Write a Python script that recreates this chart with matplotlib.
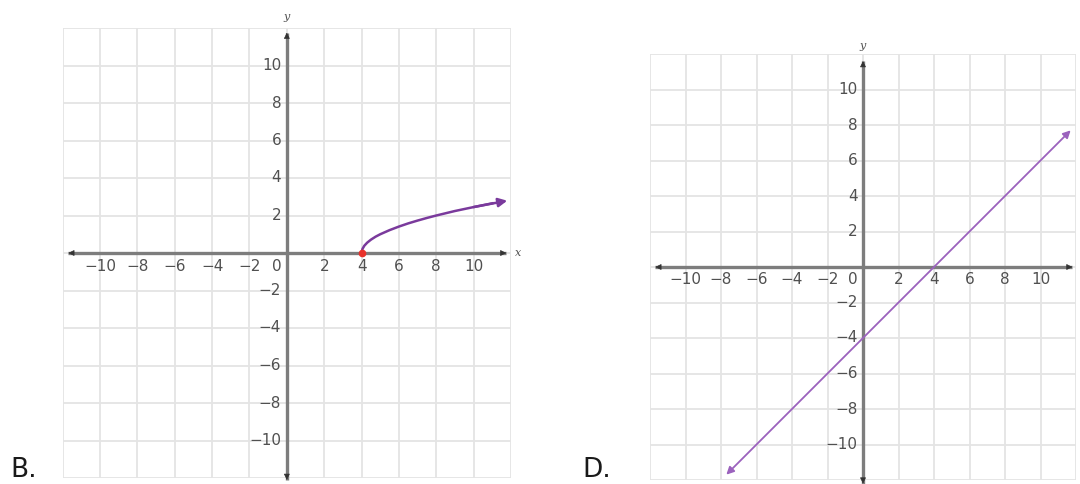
import matplotlib
matplotlib.use("Agg")
import matplotlib.pyplot as plt

# ---- data ----
ticks = [-10, -8, -6, -4, -2, 2, 4, 6, 8, 10]
grid_vals = list(range(-12, 13, 2))
curve_b_x = [4.0, 4.05, 4.15, 4.3, 4.5, 4.75, 5.0, 5.5, 6.0, 6.5, 7.0, 7.5, 8.0, 9.0, 10.0, 11.0, 11.8]
curve_b_y = [0.0, 0.22, 0.39, 0.55, 0.71, 0.87, 1.0, 1.22, 1.41, 1.58, 1.73, 1.87, 2.0, 2.24, 2.45, 2.65, 2.79]
point_b = (4, 0)
line_d_x = [-7.7, 11.7]
line_d_y = [-11.7, 7.7]
panel_labels = ["B.", "D."]

W, H = 1080, 484
fig = plt.figure(figsize=(W / 100, H / 100), dpi=100)
fig.patch.set_facecolor("white")

GRID_C = "#e4e4e4"
AXIS_C = "#7d7d7d"
TXT_C = "#505050"
FS = 11


def px_axes(x0, x1, y0, y1):
    return fig.add_axes([x0 / W, 1 - y1 / H, (x1 - x0) / W, (y1 - y0) / H])


def setup(ax, xa, ya):
    ax.set_xlim(-12, 12)
    ax.set_ylim(-12, 12)
    for s in ax.spines.values():
        s.set_visible(False)
    ax.set_xticks([])
    ax.set_yticks([])
    for g in grid_vals:
        ax.axvline(g, color=GRID_C, lw=1.3, zorder=0)
        ax.axhline(g, color=GRID_C, lw=1.3, zorder=0)
    # axes with arrows
    ax.plot(xa, [0, 0], color=AXIS_C, lw=2.4, zorder=2, solid_capstyle="butt", clip_on=False)
    ax.plot([0, 0], ya, color=AXIS_C, lw=2.4, zorder=2, solid_capstyle="butt", clip_on=False)
    for (p, q) in [((xa[1], 0), (xa[1] - 0.1, 0)), ((xa[0], 0), (xa[0] + 0.1, 0)),
                   ((0, ya[1]), (0, ya[1] - 0.1)), ((0, ya[0]), (0, ya[0] + 0.1))]:
        ax.annotate("", xy=p, xytext=q, annotation_clip=False,
                    arrowprops=dict(arrowstyle="-|>", color="#333333", lw=0.5,
                                    mutation_scale=9, shrinkA=0, shrinkB=0), zorder=3)
    for t in ticks:
        lab = str(t).replace("-", "\u2212")
        ax.text(t, -0.3, lab, ha="center", va="top", fontsize=FS, color=TXT_C, zorder=4)
        ax.text(-0.3, t, lab, ha="right", va="center", fontsize=FS, color=TXT_C, zorder=4)
    ax.text(-0.55, -0.3, "0", ha="center", va="top", fontsize=FS, color=TXT_C, zorder=4)
    ax.text(0.0, ya[1] + 0.55, "y", ha="center", va="bottom", fontsize=8, style="italic",
            family="DejaVu Serif", color=TXT_C, clip_on=False)
    ax.text(xa[1] + 0.45, 0, "x", ha="left", va="center", fontsize=8, style="italic",
            family="DejaVu Serif", color=TXT_C, clip_on=False)


# ---- Panel B ----
axB = px_axes(62.7, 511, 28, 478)
setup(axB, [-11.7, 11.75], [-12.1, 11.75])
axB.plot(curve_b_x[:-1], curve_b_y[:-1], color="#7a3a9c", lw=1.8, zorder=5, clip_on=False)
axB.annotate("", xy=(curve_b_x[-1], curve_b_y[-1]), xytext=(curve_b_x[-3], curve_b_y[-3]),
             annotation_clip=False,
             arrowprops=dict(arrowstyle="-|>", color="#7a3a9c", lw=1.8,
                             mutation_scale=13, shrinkA=0, shrinkB=0), zorder=5)
axB.plot([point_b[0]], [point_b[1]], "o", color="#e8312a", ms=4.5, zorder=6, clip_on=False)

# ---- Panel D ----
axD = px_axes(650, 1076, 54, 480)
setup(axD, [-11.7, 11.8], [-12.2, 11.6])
axD.annotate("", xy=(line_d_x[1], line_d_y[1]), xytext=(line_d_x[0], line_d_y[0]),
             annotation_clip=False,
             arrowprops=dict(arrowstyle="<|-|>", color="#9b62bd", lw=1.3,
                             mutation_scale=11, shrinkA=0, shrinkB=0), zorder=5)

fig.text(10 / W, 1 - 477 / H, panel_labels[0], fontsize=19, color="#1a1a1a", ha="left", va="baseline")
fig.text(582 / W, 1 - 477 / H, panel_labels[1], fontsize=19, color="#1a1a1a", ha="left", va="baseline")

fig.savefig("out.png", dpi=100, facecolor="white")
